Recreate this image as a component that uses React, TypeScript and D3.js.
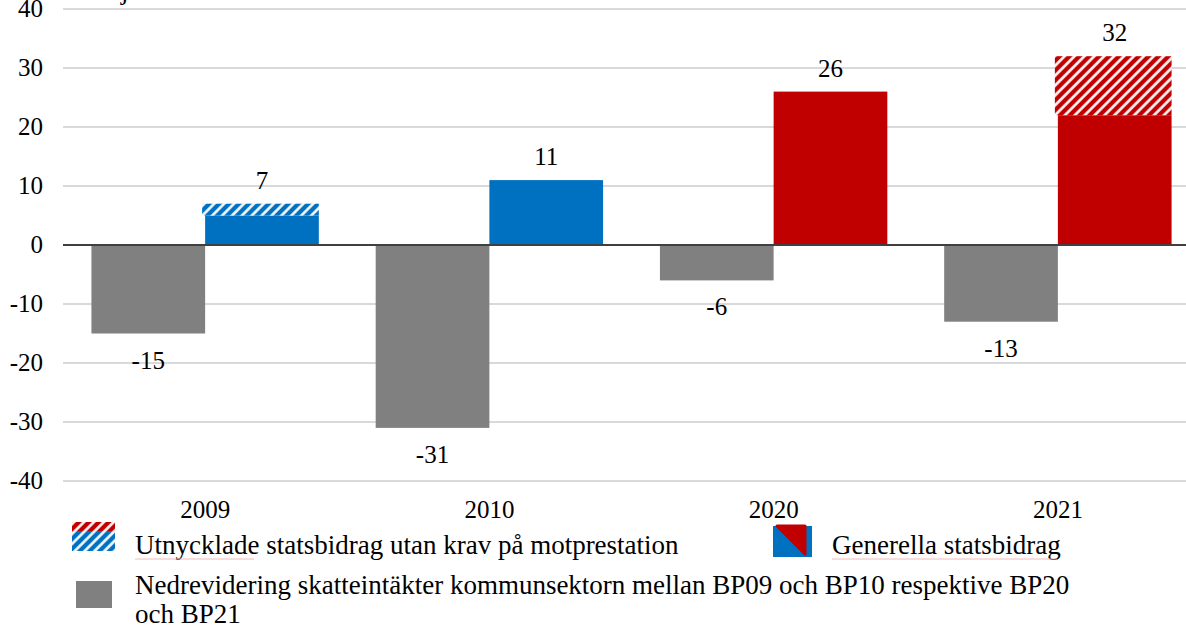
import React from "react";
import * as d3 from "d3";

const categories = ["2009", "2010", "2020", "2021"];
const skatteintakter = [-15, -31, -6, -13];
const generella = [5, 11, 26, 22];
const utnycklade = [2, 0, 0, 10];
const seriesColor = ["#0070C0", "#0070C0", "#C00000", "#C00000"];
const yTicks = [40, 30, 20, 10, 0, -10, -20, -30, -40];

const W = 1186;
const H = 628;
const FONT = "'Liberation Serif', 'Times New Roman', serif";
const AXIS_SIZE = 25;
const LEGEND_SIZE = 27;

const App = () => {
  const x = d3
    .scaleBand<string>()
    .domain(categories)
    .range([63, 1200])
    .paddingInner(0.2)
    .paddingOuter(0.1);

  const y = d3.scaleLinear().domain([-40, 40]).range([481, 9]);

  const sub = d3
    .scaleBand<string>()
    .domain(["skatt", "bidrag"])
    .range([0, x.bandwidth()]);

  const hatchId = (c: string) => "hatch-" + c.replace("#", "");

  return (
    <svg
      width={W}
      height={H}
      style={{ position: "absolute", left: 0, top: 0 }}
      fontFamily={FONT}
    >
      <defs>
        {["#0070C0", "#C00000"].map(c => (
          <pattern
            key={c}
            id={hatchId(c)}
            width={7}
            height={7}
            patternUnits="userSpaceOnUse"
            patternTransform="rotate(45)"
          >
            <rect width={7} height={7} fill={c} />
            <line x1={1.5} y1={0} x2={1.5} y2={7} stroke="#fff" strokeWidth={2.6} />
          </pattern>
        ))}
      </defs>

      {/* unit title, mostly above the frame like in the source */}
      <text x={82} y={-1} fontSize={LEGEND_SIZE}>
        Miljarder kronor
      </text>

      {/* gridlines + y labels */}
      {yTicks.map(t => (
        <g key={t}>
          {t !== 0 && (
            <line x1={63} x2={W} y1={y(t)} y2={y(t)} stroke="#d9d9d9" strokeWidth={2} />
          )}
          <text x={43} y={y(t) + 8} fontSize={AXIS_SIZE} textAnchor="end">
            {t}
          </text>
        </g>
      ))}

      {categories.map((c, i) => {
        const x0 = x(c)!;
        const gx = x0 + sub("skatt")!;
        const bx = x0 + sub("bidrag")!;
        const bw = sub.bandwidth();
        const total = generella[i] + utnycklade[i];
        return (
          <g key={c}>
            <rect
              x={gx}
              width={bw}
              y={y(0)}
              height={y(skatteintakter[i]) - y(0)}
              fill="#808080"
            />
            <rect
              x={bx}
              width={bw}
              y={y(generella[i])}
              height={y(0) - y(generella[i])}
              fill={seriesColor[i]}
            />
            {utnycklade[i] > 0 && (
              <rect
                x={bx - 3}
                width={bw + 3}
                y={y(total)}
                height={y(generella[i]) - y(total)}
                fill={`url(#${hatchId(seriesColor[i])})`}
              />
            )}
            <text x={bx + bw / 2} y={y(total) - 15} fontSize={AXIS_SIZE} textAnchor="middle">
              {total}
            </text>
            <text
              x={gx + bw / 2}
              y={y(skatteintakter[i]) + 35}
              fontSize={AXIS_SIZE}
              textAnchor="middle"
            >
              {skatteintakter[i]}
            </text>
            <text x={x0 + x.bandwidth() / 2} y={518} fontSize={AXIS_SIZE} textAnchor="middle">
              {c}
            </text>
          </g>
        );
      })}

      {/* zero axis */}
      <line x1={63} x2={W} y1={y(0)} y2={y(0)} stroke="#404040" strokeWidth={2} />

      {/* legend */}
      <g>
        <rect x={72} y={522} width={43} height={9} fill={`url(#${hatchId("#C00000")})`} />
        <rect x={72} y={531} width={43} height={20} fill={`url(#${hatchId("#0070C0")})`} />
        <text x={135} y={554} fontSize={LEGEND_SIZE}>
          Utnycklade statsbidrag utan krav på motprestation
        </text>
        <line x1={135} x2={254} y1={559} y2={559} stroke="#f2b8b8" strokeWidth={1} />

        <rect x={773} y={526} width={39} height={31} fill="#0070C0" />
        <path
          d="M777,526 L805,526 L805,554 Z"
          fill="#C00000"
          stroke="#C00000"
          strokeWidth={3}
          strokeLinejoin="round"
        />
        <text x={832} y={554} fontSize={LEGEND_SIZE}>
          Generella statsbidrag
        </text>
        <line x1={832} x2={1057} y1={559} y2={559} stroke="#f2b8b8" strokeWidth={1} />

        <rect x={76} y={581} width={36} height={27} fill="#808080" />
        <text x={135} y={594} fontSize={LEGEND_SIZE}>
          Nedrevidering skatteintäkter kommunsektorn mellan BP09 och BP10 respektive BP20
        </text>
        <text x={135} y={623} fontSize={LEGEND_SIZE}>
          och BP21
        </text>
      </g>
    </svg>
  );
};

export default App;
